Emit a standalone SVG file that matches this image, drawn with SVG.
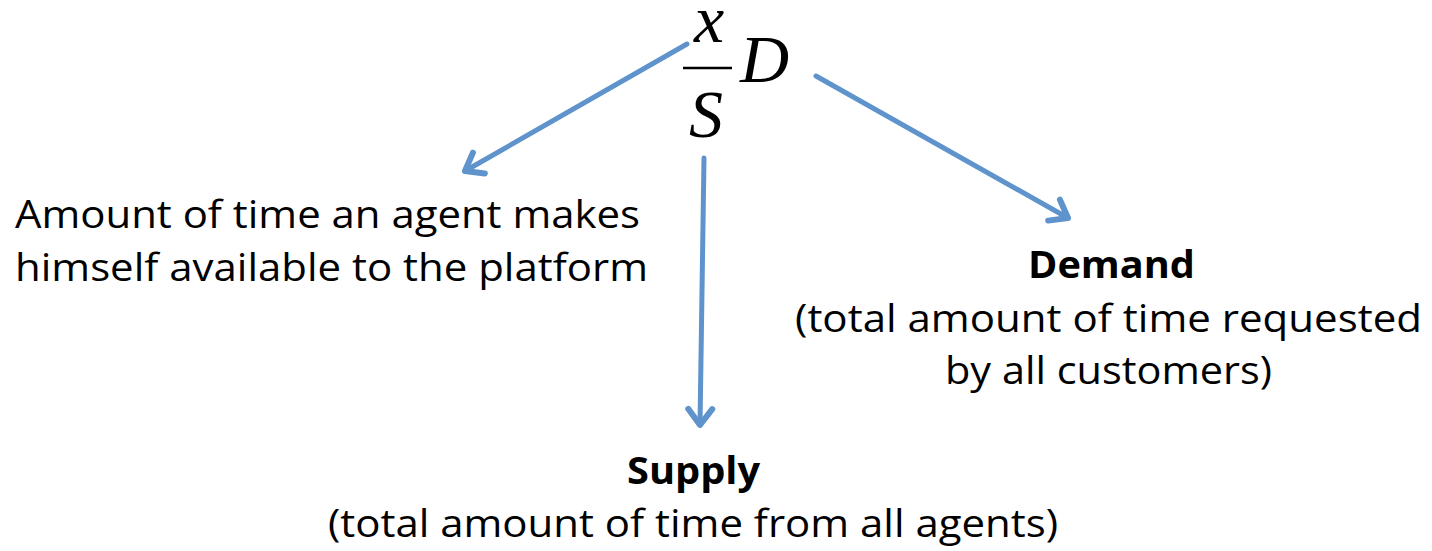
<svg xmlns="http://www.w3.org/2000/svg" width="1432" height="551" viewBox="0 0 1432 551">
<style>
.t{font-family:"Open Sans","Noto Sans","Liberation Sans",sans-serif;font-size:38px;fill:#000}
.b{font-weight:bold}
.m{font-family:"Liberation Serif","Times New Roman",serif;font-style:italic;font-size:68px;fill:#000}
.c{stroke:#5f93cc;stroke-width:5;fill:none;stroke-linecap:round;stroke-linejoin:round}
</style>
<defs>
<marker id="ah" markerUnits="userSpaceOnUse" markerWidth="40" markerHeight="40" refX="20" refY="20" orient="auto">
<path d="M4,8 L20,20 L4,32" stroke="#5f93cc" stroke-width="6" fill="none" stroke-linecap="round" stroke-linejoin="round"/>
</marker>
</defs>
<g id="formula">
<text class="m" x="709" y="42" text-anchor="middle">x</text>
<line x1="683" y1="68" x2="732" y2="68" stroke="#000" stroke-width="2.5"/>
<text class="m" x="706" y="137" text-anchor="middle">S</text>
<text class="m" x="740" y="82">D</text>
</g>
<g id="connectors">
<line class="c" x1="687" y1="44" x2="465" y2="171" marker-end="url(#ah)"/>
<line class="c" x1="704" y1="158" x2="700" y2="425" marker-end="url(#ah)"/>
<line class="c" x1="816" y1="76" x2="1068" y2="218" marker-end="url(#ah)"/>
</g>
<g id="agent">
<text class="t" x="15" y="228" textLength="625" lengthAdjust="spacingAndGlyphs">Amount of time an agent makes</text>
<text class="t" x="15" y="281" textLength="633" lengthAdjust="spacingAndGlyphs">himself available to the platform</text>
</g>
<g id="demand">
<text class="t b" x="1028" y="278" textLength="167" lengthAdjust="spacingAndGlyphs">Demand</text>
<text class="t" x="795" y="332" textLength="627" lengthAdjust="spacingAndGlyphs">(total amount of time requested</text>
<text class="t" x="945" y="384" textLength="327" lengthAdjust="spacingAndGlyphs">by all customers)</text>
</g>
<g id="supply">
<text class="t b" x="627" y="484" textLength="133" lengthAdjust="spacingAndGlyphs">Supply</text>
<text class="t" x="328" y="537" textLength="730" lengthAdjust="spacingAndGlyphs">(total amount of time from all agents)</text>
</g>
</svg>
